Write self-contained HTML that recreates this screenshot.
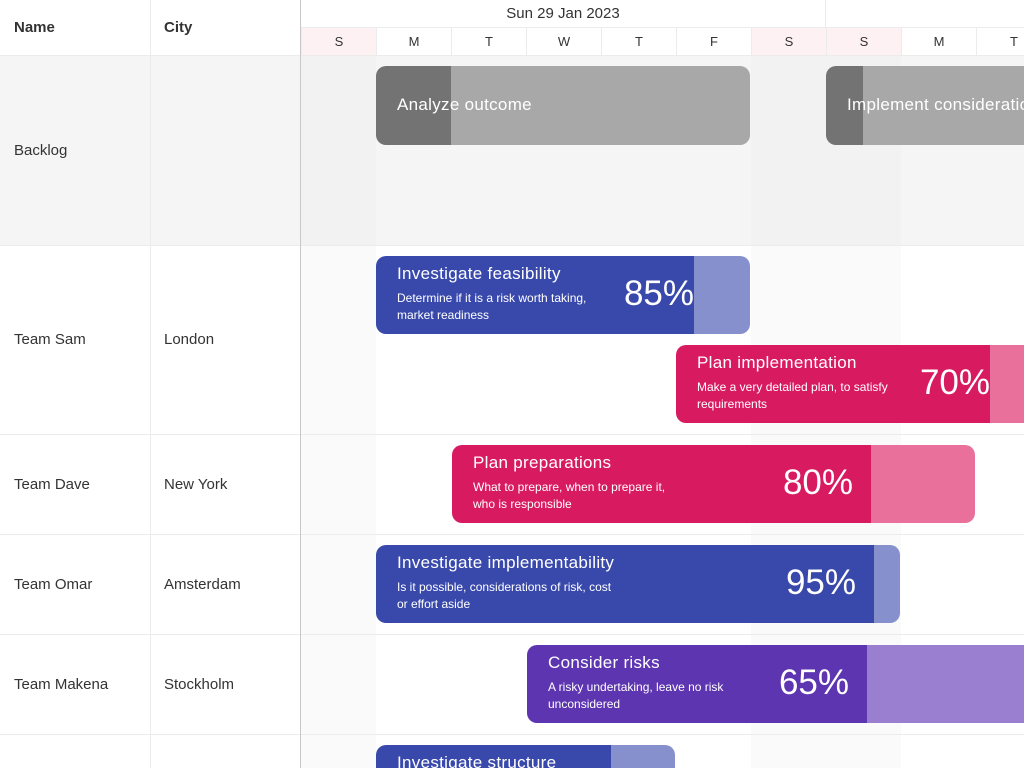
<!DOCTYPE html><html style="overflow:hidden"><head><style>
html,body{overflow:hidden;height:768px}
body{margin:0;width:1024px;height:768px;overflow:hidden;font-family:"Liberation Sans",sans-serif;background:#fff;position:relative}
.a{position:absolute}
.row{position:absolute;left:0;width:1024px;border-bottom:1px solid #ececec}
.cell{position:absolute;font-size:15px;color:#333}
.bar{position:absolute;border-radius:10px;overflow:hidden;color:#fff}
.bar .t{position:absolute;left:21px;top:8px;font-size:17px;white-space:nowrap;letter-spacing:0.3px}
.bar .d{position:absolute;left:21px;top:34px;font-size:12px;line-height:17px;white-space:nowrap}
.bar .p{position:absolute;top:18px;font-size:35px;text-align:right;white-space:nowrap}
.day{position:absolute;top:28px;height:27px;width:75px;text-align:center;line-height:28px;font-size:13px;color:#333;border-left:1px solid #ececec;box-sizing:border-box}
</style></head><body>
<div class="a" style="left:0;top:55px;width:1024px;height:190px;background:#f5f5f5"></div>
<div class="a" style="left:301px;top:245px;width:75px;height:523px;background:#fafafa"></div>
<div class="a" style="left:751px;top:245px;width:150px;height:523px;background:#fafafa"></div>
<div class="a" style="left:301px;top:55px;width:75px;height:190px;background:#f2f2f2"></div>
<div class="a" style="left:751px;top:55px;width:150px;height:190px;background:#f2f2f2"></div>
<div class="row" style="top:0;height:55px;background:#fff"></div>
<div class="row" style="top:55px;height:190px"></div>
<div class="row" style="top:245px;height:189px"></div>
<div class="row" style="top:434px;height:100px"></div>
<div class="row" style="top:534px;height:100px"></div>
<div class="row" style="top:634px;height:100px"></div>
<div class="a" style="left:150px;top:0;width:1px;height:768px;background:#ececec"></div>
<div class="a" style="left:300px;top:0;width:1px;height:768px;background:#c8c8c8"></div>
<div class="a" style="left:301px;top:27px;width:723px;height:1px;background:#ececec"></div>
<div class="a" style="left:825px;top:0;width:1px;height:28px;background:#ececec"></div>
<div class="cell" style="left:14px;top:19px;font-weight:bold;font-size:15px">Name</div>
<div class="cell" style="left:164px;top:19px;font-weight:bold;font-size:15px">City</div>
<div class="cell" style="left:301px;top:5px;width:524px;text-align:center;font-size:15px">Sun 29 Jan 2023</div>
<div class="day" style="left:301px;background:#fdf1f3">S</div>
<div class="day" style="left:376px">M</div>
<div class="day" style="left:451px">T</div>
<div class="day" style="left:526px">W</div>
<div class="day" style="left:601px">T</div>
<div class="day" style="left:676px">F</div>
<div class="day" style="left:751px;background:#fdf1f3">S</div>
<div class="day" style="left:826px;background:#fdf1f3">S</div>
<div class="day" style="left:901px">M</div>
<div class="day" style="left:976px">T</div>
<div class="cell" style="left:14px;top:142px">Backlog</div>
<div class="cell" style="left:14px;top:331px">Team Sam</div><div class="cell" style="left:164px;top:331px">London</div>
<div class="cell" style="left:14px;top:476px">Team Dave</div><div class="cell" style="left:164px;top:476px">New York</div>
<div class="cell" style="left:14px;top:576px">Team Omar</div><div class="cell" style="left:164px;top:576px">Amsterdam</div>
<div class="cell" style="left:14px;top:676px">Team Makena</div><div class="cell" style="left:164px;top:676px">Stockholm</div>

<div class="bar" style="left:376px;top:66px;width:374px;height:79px;background:linear-gradient(90deg,#737373 75px,#a8a8a8 75px)"><div class="t" style="top:29px">Analyze outcome</div></div>
<div class="bar" style="left:826px;top:66px;width:240px;height:79px;background:linear-gradient(90deg,#737373 37px,#a8a8a8 37px)"><div class="t" style="top:29px">Implement considerations</div></div>

<div class="bar" style="left:376px;top:256px;width:374px;height:78px;background:linear-gradient(90deg,#3949ab 318px,#8690cc 318px)"><div class="t">Investigate feasibility</div><div class="d">Determine if it is a risk worth taking,<br>market readiness</div><div class="p" style="right:56px">85%</div></div>
<div class="bar" style="left:676px;top:345px;width:380px;height:78px;background:linear-gradient(90deg,#d81b60 314px,#e8709b 314px)"><div class="t">Plan implementation</div><div class="d">Make a very detailed plan, to satisfy<br>requirements</div><div class="p" style="right:66px">70%</div></div>
<div class="bar" style="left:452px;top:445px;width:523px;height:78px;background:linear-gradient(90deg,#d81b60 419px,#e8709b 419px)"><div class="t">Plan preparations</div><div class="d">What to prepare, when to prepare it,<br>who is responsible</div><div class="p" style="right:122px">80%</div></div>
<div class="bar" style="left:376px;top:545px;width:524px;height:78px;background:linear-gradient(90deg,#3949ab 498px,#8690cc 498px)"><div class="t">Investigate implementability</div><div class="d">Is it possible, considerations of risk, cost<br>or effort aside</div><div class="p" style="right:44px">95%</div></div>
<div class="bar" style="left:527px;top:645px;width:520px;height:78px;background:linear-gradient(90deg,#5e35b1 340px,#9a7fd1 340px)"><div class="t">Consider risks</div><div class="d">A risky undertaking, leave no risk<br>unconsidered</div><div class="p" style="right:198px">65%</div></div>
<div class="bar" style="left:376px;top:745px;width:299px;height:23px;border-radius:10px 10px 0 0;background:linear-gradient(90deg,#3949ab 235px,#8690cc 235px)"><div class="t">Investigate structure</div></div>
</body></html>
